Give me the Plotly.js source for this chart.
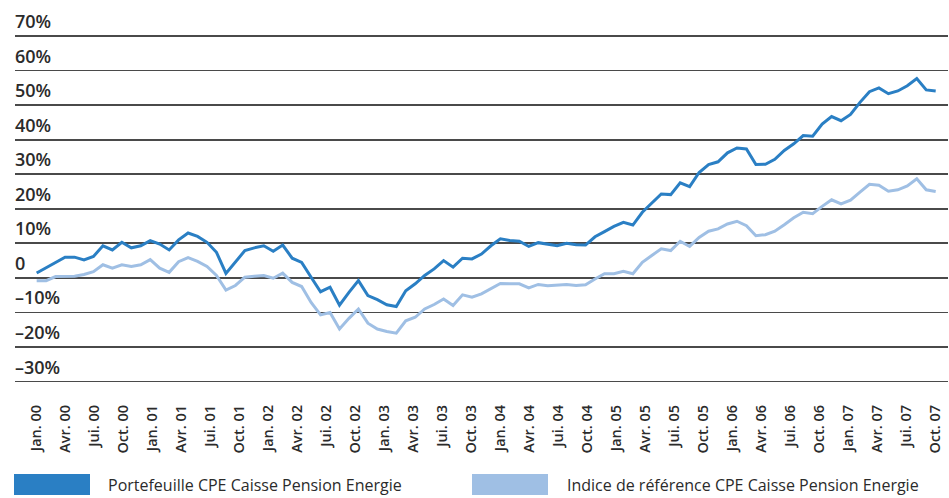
<!DOCTYPE html>
<html>
<head>
<meta charset="utf-8">
<script src="https://cdn.plot.ly/plotly-3.0.1.min.js"></script>
<style>html,body{margin:0;padding:0;background:#fff;}#chart{width:949px;height:498px;}</style>
</head>
<body>
<div id="chart"></div>
<script>
// Tick labels (quarterly)
const tickLabels = [
  'Jan. 00','Avr. 00','Jui. 00','Oct. 00','Jan. 01','Avr. 01','Jui. 01','Oct. 01',
  'Jan. 02','Avr. 02','Jui. 02','Oct. 02','Jan. 03','Avr. 03','Jui. 03','Oct. 03',
  'Jan. 04','Avr. 04','Jui. 04','Oct. 04','Jan. 05','Avr. 05','Jui. 05','Oct. 05',
  'Jan. 06','Avr. 06','Jui. 06','Oct. 06','Jan. 07','Avr. 07','Jui. 07','Oct. 07'
];
// Y axis ticks
const yTickVals = [70, 60, 50, 40, 30, 20, 10, 0, -10, -20, -30];
const yTickText = ['70%','60%','50%','40%','30%','20%','10%','0','–10%','–20%','–30%'];

// Series names
const nameP = 'Portefeuille CPE Caisse Pension Energie';
const nameI = 'Indice de référence CPE Caisse Pension Energie';

// Portefeuille CPE (% cumulative performance)
const portefeuille = [
  1.4, 2.9, 4.4, 6.0, 6.0, 5.2, 6.2, 9.3, 8.1, 10.3, 8.7, 9.3,
  10.8, 9.8, 8.1, 11.0, 13.0, 12.0, 10.3, 7.4, 1.3, 4.6, 7.9, 8.7,
  9.3, 7.7, 9.5, 5.7, 4.5, 0.2, -4.0, -2.7, -7.9, -4.2, -0.8, -5.1,
  -6.3, -7.8, -8.3, -3.7, -1.7, 0.7, 2.6, 5.0, 3.1, 5.7, 5.5, 6.9,
  9.3, 11.3, 10.8, 10.6, 9.1, 10.2, 9.8, 9.3, 10.0, 9.6, 9.5, 11.9,
  13.4, 14.9, 16.1, 15.3, 19.0, 21.6, 24.3, 24.1, 27.5, 26.4, 30.5, 32.8,
  33.6, 36.2, 37.6, 37.3, 32.8, 32.9, 34.3, 36.9, 38.8, 41.2, 41.0, 44.5,
  46.7, 45.5, 47.3, 50.8, 53.9, 55.0, 53.3, 54.1, 55.6, 57.7, 54.4, 54.1
];
// Indice de référence (% cumulative performance)
const indice = [
  -0.8, -0.8, 0.4, 0.5, 0.5, 1.0, 1.8, 3.8, 2.8, 3.8, 3.3, 3.8,
  5.3, 2.8, 1.6, 4.7, 5.9, 4.8, 3.3, 0.7, -3.5, -2.2, 0.2, 0.5,
  0.7, -0.1, 1.4, -1.3, -2.5, -7.1, -10.7, -10.0, -14.8, -11.7, -9.0, -13.1,
  -14.8, -15.5, -16.0, -12.4, -11.4, -9.0, -7.7, -6.1, -8.0, -4.9, -5.6, -4.6,
  -3.0, -1.6, -1.7, -1.7, -2.9, -1.9, -2.3, -2.2, -1.9, -2.2, -2.0, -0.3,
  1.2, 1.2, 1.9, 1.2, 4.5, 6.5, 8.4, 7.9, 10.6, 9.1, 11.7, 13.5,
  14.2, 15.6, 16.4, 15.1, 12.2, 12.5, 13.5, 15.4, 17.4, 19.0, 18.6, 20.7,
  22.6, 21.4, 22.5, 24.8, 27.1, 26.8, 25.1, 25.5, 26.6, 28.7, 25.5, 25.0
];

const colP = '#2a7fc4';
const colI = '#9fbfe4';

const n = portefeuille.length;
const xIdx = portefeuille.map((_, i) => i);
const xTickVals = tickLabels.map((_, k) => k * (n - 1) / (tickLabels.length - 1));

const traces = [
  {x: xIdx, y: indice, type: 'scatter', mode: 'lines', name: nameI,
   line: {color: colI, width: 3}, hoverinfo: 'skip'},
  {x: xIdx, y: portefeuille, type: 'scatter', mode: 'lines', name: nameP,
   line: {color: colP, width: 3}, hoverinfo: 'skip'}
];

// plot area geometry in px for legend placement
const W = 949, H = 498, mL = 15, mR = 1, mT = 35, mB = 113;
const pw = W - mL - mR, ph = H - mT - mB;
const px = v => (v - mL) / pw;
const py = v => (H - mB - v) / ph;

const font = 'Open Sans, Noto Sans, Arial, sans-serif';
const txtCol = '#2b2b2b';

// y labels drawn above each gridline, through the y axis scale
const yLabelAnn = yTickVals.map((v, i) => ({
  xref: 'paper', yref: 'y', x: 0, y: v, xanchor: 'left', yanchor: 'bottom',
  xshift: -2, yshift: 1, text: yTickText[i], showarrow: false,
  font: {family: font, size: 18, color: txtCol, weight: 600}
}));

const layout = {
  width: W, height: H,
  margin: {l: mL, r: mR, t: mT, b: mB, pad: 0},
  paper_bgcolor: '#ffffff', plot_bgcolor: '#ffffff',
  showlegend: false,
  xaxis: {
    range: [-2.29, 96.3],
    tickmode: 'array', tickvals: xTickVals, ticktext: tickLabels,
    tickangle: -90, ticks: '', showgrid: false, zeroline: false, showline: false,
    ticklabelstandoff: 16,
    tickfont: {family: font, size: 14.5, color: txtCol, weight: 600}
  },
  yaxis: {
    range: [-31, 70.3],
    tickmode: 'array', tickvals: yTickVals, showticklabels: false,
    ticks: '', showline: false, zeroline: false,
    showgrid: true, gridcolor: '#4a4a4a', gridwidth: 1.7
  },
  shapes: [
    {type: 'rect', xref: 'paper', yref: 'paper', x0: px(14), x1: px(90), y0: py(495), y1: py(474),
     fillcolor: colP, line: {width: 0}},
    {type: 'rect', xref: 'paper', yref: 'paper', x0: px(472), x1: px(548), y0: py(495), y1: py(474),
     fillcolor: colI, line: {width: 0}}
  ],
  annotations: yLabelAnn.concat([
    {xref: 'paper', yref: 'paper', x: px(106), y: py(485), xanchor: 'left', yanchor: 'middle',
     text: nameP, showarrow: false, font: {family: font, size: 16, color: txtCol}},
    {xref: 'paper', yref: 'paper', x: px(565), y: py(485), xanchor: 'left', yanchor: 'middle',
     text: nameI, showarrow: false, font: {family: font, size: 16, color: txtCol}}
  ])
};

Plotly.newPlot('chart', traces, layout, {displayModeBar: false, staticPlot: true});
</script>
</body>
</html>
